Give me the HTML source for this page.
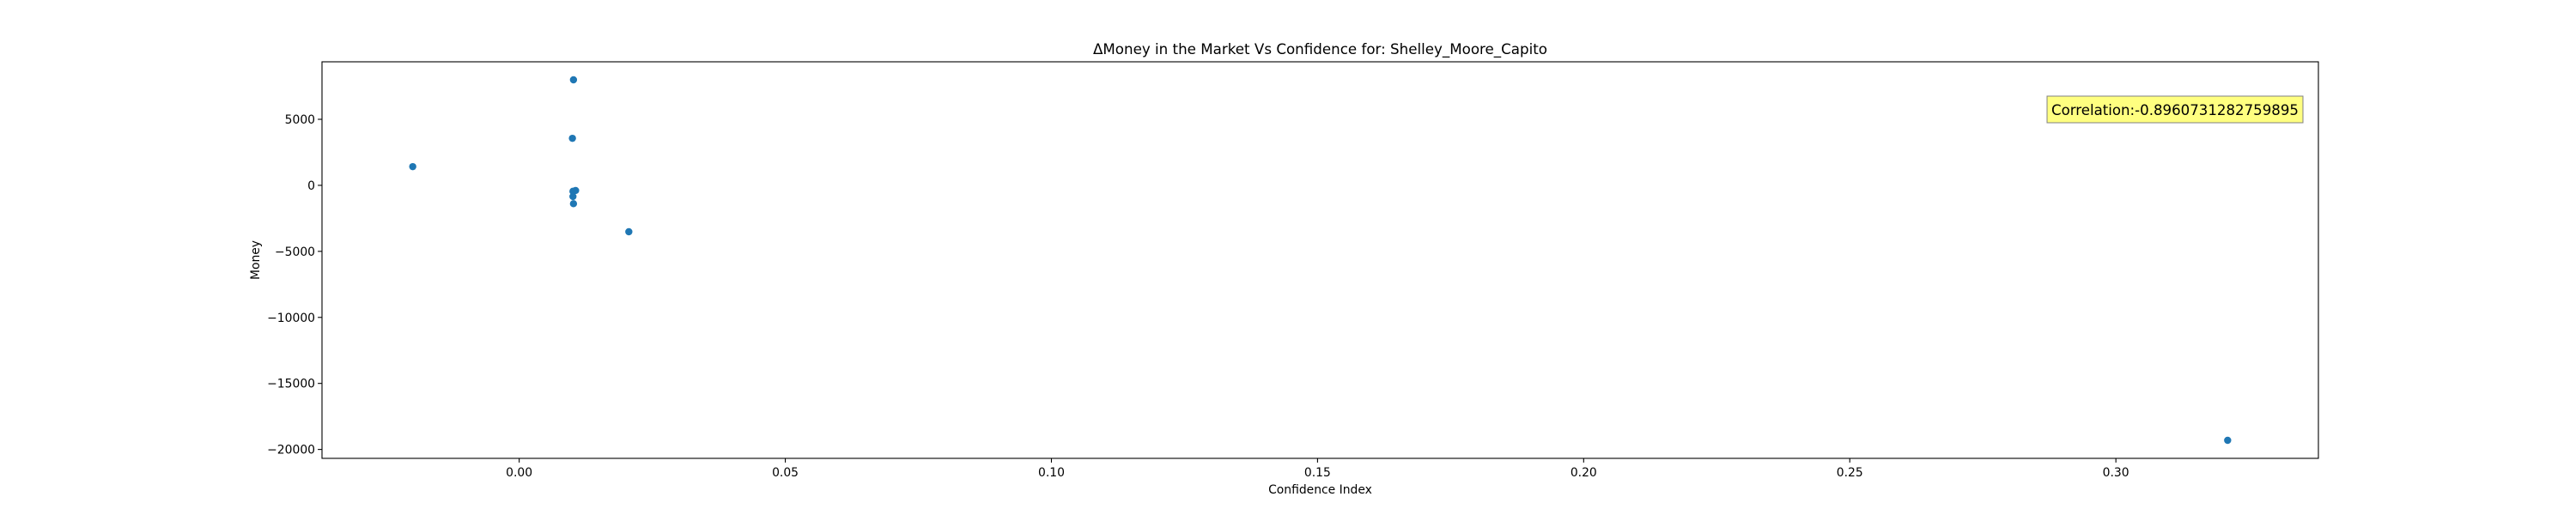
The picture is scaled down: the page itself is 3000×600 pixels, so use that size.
<!DOCTYPE html>
<html><head><meta charset="utf-8"><style>
html,body{margin:0;padding:0;background:#fff}
svg{display:block;font-family:"DejaVu Sans","Liberation Sans",sans-serif}
</style></head><body>
<svg id="chart" width="3000" height="600" viewBox="0 0 3000 600" xmlns="http://www.w3.org/2000/svg">
<rect width="3000" height="600" fill="#fff"/>
<text x="1537.5" y="63" font-size="16.7" text-anchor="middle" fill="#000">ΔMoney in the Market Vs Confidence for: Shelley_Moore_Capito</text>
<g id="axes"></g>
<g id="points"></g>
<rect x="375" y="72" width="2325" height="462" fill="none" stroke="#000" stroke-width="1.1"/>
<text x="1537.5" y="575" font-size="13.9" text-anchor="middle">Confidence Index</text>
<text x="0" y="0" font-size="13.9" text-anchor="middle" transform="translate(302,303) rotate(-90)">Money</text>
<g>
<rect x="2384" y="112" width="298" height="31" fill="#ffff80" stroke="#808080" stroke-width="1"/>
<text x="2533" y="134" font-size="17" text-anchor="middle" textLength="288" lengthAdjust="spacingAndGlyphs">Correlation:-0.8960731282759895</text>
</g>
</svg>
<script>
const xValues = [-0.02, 0.0102, 0.0100, 0.0106, 0.0101, 0.0101, 0.0102, 0.0206, 0.321];
const yValues = [1415, 7990, 3560, -390, -450, -845, -1390, -3515, -19310];
const xTicks = [0.00, 0.05, 0.10, 0.15, 0.20, 0.25, 0.30];
const xTickLabels = ["0.00","0.05","0.10","0.15","0.20","0.25","0.30"];
const yTicks = [5000, 0, -5000, -10000, -15000, -20000];
const yTickLabels = ["5000","0","\u22125000","\u221210000","\u221215000","\u221220000"];

const L=375,R=2700,T=72,B=534;
const ns="http://www.w3.org/2000/svg";
function ext(a){const mn=Math.min(...a),mx=Math.max(...a),m=(mx-mn)*0.05;return [mn-m,mx+m];}
const [x0,x1]=ext(xValues),[y0,y1]=ext(yValues);
const sx=v=>L+(v-x0)/(x1-x0)*(R-L);
const sy=v=>B-(v-y0)/(y1-y0)*(B-T);
const axes=document.getElementById('axes'),pts=document.getElementById('points');
function mk(tag,attrs,parent){const e=document.createElementNS(ns,tag);for(const k in attrs)e.setAttribute(k,attrs[k]);parent.appendChild(e);return e;}
xTicks.forEach((t,i)=>{
  const x=sx(t);
  const ln=mk('line',{x1:x,x2:x,y1:B,y2:B+4.9,stroke:'#000','stroke-width':1.1},axes);
  
  
  const tx=mk('text',{x:x,y:B+21,'font-size':13.9,'text-anchor':'middle'},axes);
  tx.textContent=xTickLabels[i];
  
  
});
yTicks.forEach((t,i)=>{
  const y=sy(t);
  const ln=mk('line',{x1:L-4.9,x2:L,y1:y,y2:y,stroke:'#000','stroke-width':1.1},axes);
  
  
  const tx=mk('text',{x:L-8,y:y+5,'font-size':13.9,'text-anchor':'end'},axes);
  tx.textContent=yTickLabels[i];
  
  
});
xValues.forEach((v,i)=>{
  const c=mk('circle',{cx:sx(v),cy:sy(yValues[i]),r:4.2,fill:'#1f77b4'},pts);
  
  
});
</script>
</body></html>
